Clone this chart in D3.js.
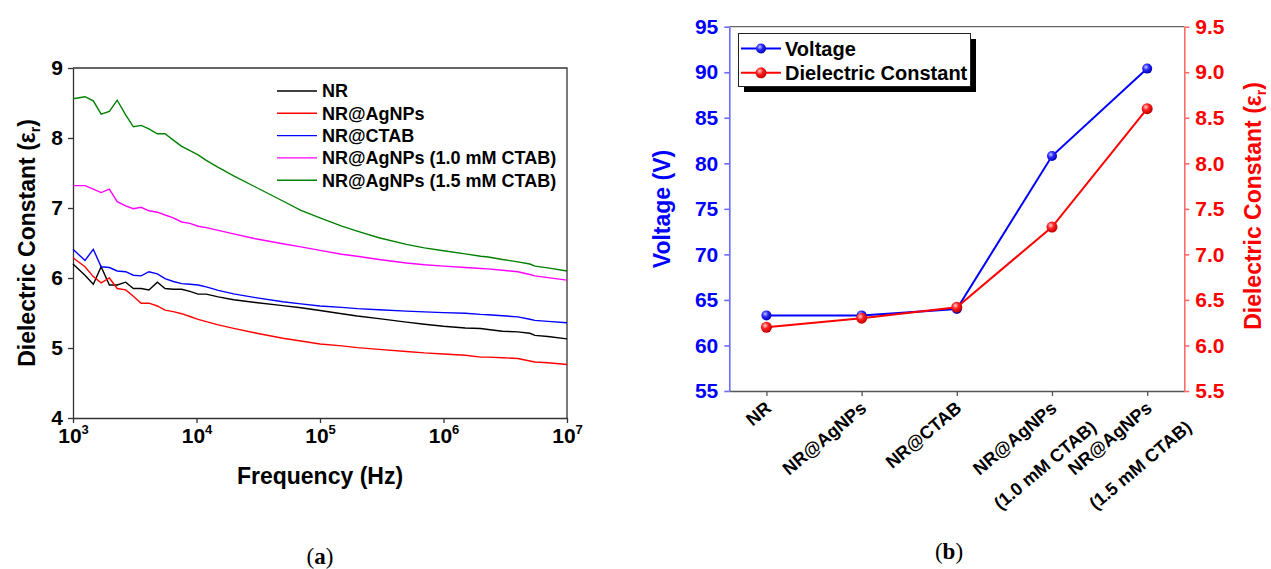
<!DOCTYPE html>
<html>
<head>
<meta charset="utf-8">
<script src="https://cdn.jsdelivr.net/npm/d3@7"></script>
<style>
body{margin:0;background:#fff;}
svg{font-family:"Liberation Sans",Arial,sans-serif;font-weight:bold;}
</style>
</head>
<body>
<svg id="chart" width="1271" height="569"></svg>
<script>
/*global d3*/

// ---- (a) dielectric constant vs frequency
var freq = [1000,1250,1460,1690,1970,2280,2670,3080,3560,4120,4820,5560,6490,7590,8850,10300,
            12000,15000,20000,30000,50000,70000,1e5,1.5e5,2e5,3e5,5e5,7e5,1e6,1.5e6,2e6,2.3e6,3e6,4e6,5e6,5.5e6,7e6,1e7];
var epsNR     = [6.20,6.04,5.91,6.16,5.90,5.90,5.94,5.85,5.85,5.83,5.94,5.85,5.84,5.84,5.81,5.77,
                 5.77,5.73,5.69,5.65,5.605,5.575,5.535,5.49,5.458,5.42,5.37,5.34,5.31,5.285,5.278,5.265,5.24,5.23,5.21,5.18,5.165,5.13];
var epsAg     = [6.29,6.16,6.02,5.93,6.00,5.85,5.83,5.74,5.64,5.64,5.60,5.54,5.52,5.49,5.45,5.41,
                 5.376,5.33,5.28,5.215,5.14,5.10,5.057,5.03,5.005,4.98,4.95,4.93,4.915,4.897,4.87,4.87,4.86,4.85,4.815,4.80,4.79,4.765];
var epsCTAB   = [6.41,6.25,6.41,6.16,6.15,6.10,6.09,6.04,6.03,6.09,6.06,5.99,5.95,5.92,5.91,5.90,
                 5.873,5.823,5.774,5.72,5.66,5.63,5.60,5.58,5.563,5.547,5.527,5.516,5.505,5.496,5.48,5.475,5.46,5.445,5.41,5.395,5.38,5.36];
var epsAg10   = [7.32,7.32,7.27,7.22,7.27,7.09,7.03,6.99,7.01,6.96,6.94,6.90,6.86,6.80,6.78,6.74,
                 6.72,6.68,6.63,6.56,6.49,6.445,6.395,6.34,6.31,6.265,6.215,6.19,6.17,6.15,6.135,6.13,6.11,6.09,6.05,6.03,6.005,5.97];
var epsAg15   = [8.56,8.59,8.53,8.34,8.38,8.54,8.33,8.16,8.18,8.13,8.06,8.06,7.97,7.88,7.82,7.76,
                 7.68,7.58,7.46,7.30,7.10,6.965,6.86,6.74,6.67,6.575,6.48,6.43,6.39,6.345,6.31,6.30,6.265,6.23,6.20,6.17,6.145,6.10];
var seriesNames  = ["NR","NR@AgNPs","NR@CTAB","NR@AgNPs (1.0 mM CTAB)","NR@AgNPs (1.5 mM CTAB)"];
var seriesColors = ["#000000","#ff0000","#0000ff","#ff00ff","#008000"];
var epsTicks  = [4,5,6,7,8,9];
var freqTicks = [1e3,1e4,1e5,1e6,1e7];
var freqExp   = ["3","4","5","6","7"];

// ---- (b) voltage and dielectric constant per sample
var sampleLines = [["NR"],["NR@AgNPs"],["NR@CTAB"],["NR@AgNPs","(1.0 mM CTAB)"],["NR@AgNPs","(1.5 mM CTAB)"]];
var voltage     = [63.3,63.3,64.0,80.8,90.4];
var dielectric  = [6.2,6.3,6.42,7.3,8.6];
var voltTicks   = [55,60,65,70,75,80,85,90,95];
var dielTicks   = [5.5,6.0,6.5,7.0,7.5,8.0,8.5,9.0,9.5];

var svg = d3.select("#chart");
var defs = svg.append("defs");

// ================= panel (a) =================
var xA = d3.scaleLog().domain([1e3,1e7]).range([73,567]);
var yA = d3.scaleLinear().domain([4,9]).range([418,68]);
var gA = svg.append("g");

var yAxisA = gA.append("g").attr("transform","translate(73,0)")
    .call(d3.axisLeft(yA).tickValues(epsTicks).tickSize(5).tickSizeOuter(0).tickPadding(5).tickFormat(d3.format("d")));
yAxisA.selectAll("text").attr("font-size",21).attr("fill","#000").attr("font-family","Liberation Sans, Arial").attr("font-weight","bold");

var xAxisA = gA.append("g").attr("transform","translate(0,418)")
    .call(d3.axisBottom(xA).tickValues(freqTicks).tickSize(5).tickSizeOuter(0).tickFormat(""));
xAxisA.selectAll(".tick").append("text")
    .attr("y",25).attr("fill","#000").attr("text-anchor","middle")
    .attr("font-size",21).attr("font-family","Liberation Sans, Arial").attr("font-weight","bold")
    .each(function(d,i){
        var t = d3.select(this);
        t.append("tspan").text("10");
        t.append("tspan").attr("font-size",13).attr("dy",-9).text(freqExp[i]);
    });
gA.selectAll(".domain, .tick line").attr("stroke","#333").attr("stroke-width",1.3);

// top and right frame
gA.append("path")
    .attr("d","M"+xA.range()[0]+","+yA.range()[1]+"H"+xA.range()[1]+"V"+yA.range()[0])
    .attr("fill","none").attr("stroke","#333").attr("stroke-width",1.3);

var seriesA = [epsNR,epsAg,epsCTAB,epsAg10,epsAg15];
var lineA = d3.line().x(function(d,i){return xA(freq[i]);}).y(function(d){return yA(d);});
gA.selectAll(".curve").data(seriesA).enter().append("path")
    .attr("class","curve")
    .attr("d",lineA)
    .attr("fill","none")
    .attr("stroke",function(d,i){return seriesColors[i];})
    .attr("stroke-width",1.4);

// legend (a)
var legA = gA.append("g").attr("transform","translate(277,91)");
seriesNames.forEach(function(n,i){
    legA.append("line").attr("x1",0).attr("x2",40).attr("y1",i*22.3).attr("y2",i*22.3)
        .attr("stroke",seriesColors[i]).attr("stroke-width",1.4);
    legA.append("text").attr("x",45).attr("y",i*22.3).attr("dy","0.35em")
        .attr("font-size",18).text(n);
});

// axis titles (a)
var yTitleA = gA.append("text").attr("transform","translate(27,243) rotate(-90)")
    .attr("text-anchor","middle").attr("dy","0.35em").attr("font-size",23);
yTitleA.append("tspan").text("Dielectric Constant (\u03b5");
yTitleA.append("tspan").attr("font-size",14).attr("dy",5).text("r");
yTitleA.append("tspan").attr("dy",-5).text(")");

gA.append("text").attr("x",320).attr("y",484).attr("text-anchor","middle")
    .attr("font-size",23).text("Frequency (Hz)");

// ================= panel (b) =================
var names = sampleLines.map(function(l){return l.join(" ");});
var xB = d3.scalePoint().domain(names).range([729.3,1184.3]).padding(0.39);
var yV = d3.scaleLinear().domain([55,95]).range([391,26.7]);
var yD = d3.scaleLinear().domain([5.5,9.5]).range([391,26.7]);
var gB = svg.append("g");

function ballGradient(id, light, mid, dark){
    var g = defs.append("radialGradient").attr("id",id)
        .attr("cx","38%").attr("cy","35%").attr("r","65%");
    g.append("stop").attr("offset","0%").attr("stop-color",light);
    g.append("stop").attr("offset","45%").attr("stop-color",mid);
    g.append("stop").attr("offset","100%").attr("stop-color",dark);
}
ballGradient("ballBlue","#c8c8ff","#2a2aff","#0000b0");
ballGradient("ballRed","#ffd0d0","#ff2020","#c00000");

// top frame
gB.append("line").attr("x1",729.3).attr("x2",1184.3).attr("y1",26.7).attr("y2",26.7)
    .attr("stroke","#666").attr("stroke-width",1.3);

var xAxisB = gB.append("g").attr("transform","translate(0,391)")
    .call(d3.axisBottom(xB).tickSize(5).tickSizeOuter(0).tickFormat(""));
xAxisB.selectAll(".domain, .tick line").attr("stroke","#555").attr("stroke-width",1.3);

var yAxisV = gB.append("g").attr("transform","translate(729.3,0)")
    .call(d3.axisLeft(yV).tickValues(voltTicks).tickSize(5).tickSizeOuter(0).tickPadding(6));
yAxisV.selectAll(".domain, .tick line").attr("stroke","#6b6bff").attr("stroke-width",1.6);
yAxisV.selectAll("text").attr("font-size",21).attr("fill","#0000ff").attr("font-family","Liberation Sans, Arial").attr("font-weight","bold");

var yAxisD = gB.append("g").attr("transform","translate(1184.3,0)")
    .call(d3.axisRight(yD).tickValues(dielTicks).tickSize(5).tickSizeOuter(0).tickPadding(6).tickFormat(d3.format(".1f")));
yAxisD.selectAll(".domain, .tick line").attr("stroke","#ff6b6b").attr("stroke-width",1.6);
yAxisD.selectAll("text").attr("font-size",21).attr("fill","#ff0000").attr("font-family","Liberation Sans, Arial").attr("font-weight","bold");

// category labels, rotated
names.forEach(function(n,i){
    var lab = gB.append("g").attr("transform","translate("+(xB(n)+6)+",410) rotate(-40)");
    var t1 = lab.append("text").attr("font-size",18).attr("text-anchor","end").text(sampleLines[i][0]);
    if(sampleLines[i].length > 1){
        var w1 = t1.node().getComputedTextLength();
        lab.append("text").attr("font-size",18).attr("text-anchor","middle")
            .attr("x",-w1/2 + 6).attr("y",40).text(sampleLines[i][1]);
    }
});

// series lines and markers
var lineV = d3.line().x(function(d,i){return xB(names[i]);}).y(function(d){return yV(d);});
var lineD = d3.line().x(function(d,i){return xB(names[i]);}).y(function(d){return yD(d);});
gB.append("path").datum(voltage).attr("d",lineV).attr("fill","none").attr("stroke","#0000ff").attr("stroke-width",2);
gB.append("path").datum(dielectric).attr("d",lineD).attr("fill","none").attr("stroke","#ff0000").attr("stroke-width",2);
gB.selectAll(".mv").data(voltage).enter().append("circle").attr("class","mv")
    .attr("cx",function(d,i){return xB(names[i]);}).attr("cy",function(d){return yV(d);})
    .attr("r",5).attr("fill","url(#ballBlue)");
gB.selectAll(".md").data(dielectric).enter().append("circle").attr("class","md")
    .attr("cx",function(d,i){return xB(names[i]);}).attr("cy",function(d){return yD(d);})
    .attr("r",5.5).attr("fill","url(#ballRed)");

// legend (b)
gB.append("rect").attr("x",744).attr("y",39).attr("width",232).attr("height",53).attr("fill","#000");
gB.append("rect").attr("x",738.5).attr("y",33.5).attr("width",232).attr("height",53)
    .attr("fill","#fff").attr("stroke","#222").attr("stroke-width",1);
var legB = [["Voltage","#0000ff","url(#ballBlue)",5],["Dielectric Constant","#ff0000","url(#ballRed)",5.5]];
legB.forEach(function(e,i){
    var y = 48.5 + i*24.3;
    gB.append("line").attr("x1",741).attr("x2",781).attr("y1",y).attr("y2",y)
        .attr("stroke",e[1]).attr("stroke-width",2);
    gB.append("circle").attr("cx",761).attr("cy",y).attr("r",e[3]).attr("fill",e[2]);
    gB.append("text").attr("x",785).attr("y",y).attr("dy","0.35em").attr("font-size",20).text(e[0]);
});

// axis titles (b)
gB.append("text").attr("transform","translate(662,209) rotate(-90)")
    .attr("text-anchor","middle").attr("dy","0.35em").attr("font-size",23)
    .attr("fill","#0000ff").text("Voltage (V)");
var yTitleD = gB.append("text").attr("transform","translate(1253,206) rotate(-90)")
    .attr("text-anchor","middle").attr("dy","0.35em").attr("font-size",23).attr("fill","#ff0000");
yTitleD.append("tspan").text("Dielectric Constant (\u03b5");
yTitleD.append("tspan").attr("font-size",14).attr("dy",5).text("r");
yTitleD.append("tspan").attr("dy",-5).text(")");

// captions
function caption(x, y, letter){
    var c = svg.append("text").attr("x",x).attr("y",y).attr("text-anchor","middle")
        .attr("font-family","Liberation Serif, serif").attr("font-weight","normal").attr("font-size",23);
    c.append("tspan").text("(");
    c.append("tspan").attr("font-weight","bold").text(letter);
    c.append("tspan").text(")");
}
caption(320, 564, "a");
caption(949, 559, "b");
</script>
</body>
</html>
